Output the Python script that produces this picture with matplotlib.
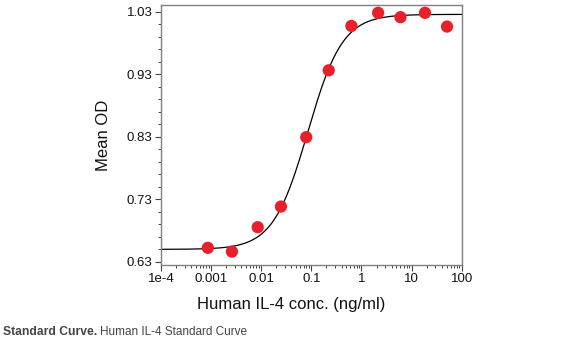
import numpy as np
import matplotlib
matplotlib.use("Agg")
import matplotlib.pyplot as plt
from matplotlib.ticker import FixedLocator, LogLocator, NullFormatter

# measured standards
conc = [0.00086, 0.0026, 0.0085, 0.0247, 0.079, 0.222, 0.63, 2.15, 6.0, 18.5, 51.0]
mean_od = [0.652, 0.646, 0.685, 0.718, 0.829, 0.936, 1.007, 1.028, 1.021, 1.028, 1.006]

# 4PL fit parameters (bottom, top, ec50, hill)
fit_bottom = 0.6495
fit_top = 1.0255
fit_ec50 = 0.085
fit_hill = 1.25

x_ticks = [1e-4, 1e-3, 1e-2, 1e-1, 1, 10, 100]
x_labels = ["1e-4", "0.001", "0.01", "0.1", "1", "10", "100"]
y_ticks = [0.63, 0.73, 0.83, 0.93, 1.03]

plt.rcParams['font.family'] = ['Liberation Sans', 'DejaVu Sans']

fig = plt.figure(figsize=(5.64, 3.46), dpi=100)
ax = fig.add_axes([161 / 564, 1 - 265 / 346, 300.7 / 564, 260 / 346])

xs = np.logspace(-4, 2, 400)
curve = fit_bottom + (fit_top - fit_bottom) / (1 + (fit_ec50 / xs) ** fit_hill)
ax.plot(xs, curve, color='black', lw=0.9, zorder=2)
ax.scatter(conc, mean_od, s=78, color='#e8202a', edgecolors='none', zorder=3)

ax.set_xscale('log')
ax.set_xlim(1e-4, 100)
ax.set_ylim(0.6245, 1.0405)
ax.xaxis.set_major_locator(FixedLocator(x_ticks))
ax.set_xticklabels(x_labels)
ax.xaxis.set_minor_locator(LogLocator(base=10, subs=np.arange(2, 10)))
ax.xaxis.set_minor_formatter(NullFormatter())
ax.yaxis.set_major_locator(FixedLocator(y_ticks))
ax.set_yticklabels([f"{v:.2f}" for v in y_ticks])
ax.yaxis.set_minor_locator(FixedLocator(np.arange(0.63, 1.04, 0.02)))

for s in ax.spines.values():
    s.set_color('#808080')
    s.set_linewidth(1.0)
ax.tick_params(which='major', direction='out', length=4, width=0.8, color='#444444',
               labelsize=9.5, labelcolor='#111111', pad=2)
ax.tick_params(which='minor', direction='out', length=2.5, width=0.7, color='#444444')

fig.text(291 / 564, 1 - 305 / 346, "Human IL-4 conc. (ng/ml)", ha='center', va='center',
         fontsize=12, color='#111111')
fig.text(104 / 564, 1 - 135 / 346, "Mean OD", ha='center', va='center', rotation=90,
         fontsize=12, color='#111111')

fig.text(3 / 564, 1 - 332 / 346, "Standard Curve.", ha='left', va='center',
         fontsize=8.7, fontweight='bold', color='#444444')
fig.text(100 / 564, 1 - 332 / 346, "Human IL-4 Standard Curve", ha='left', va='center',
         fontsize=8.5, color='#444444')

fig.savefig("out.png", dpi=100)
